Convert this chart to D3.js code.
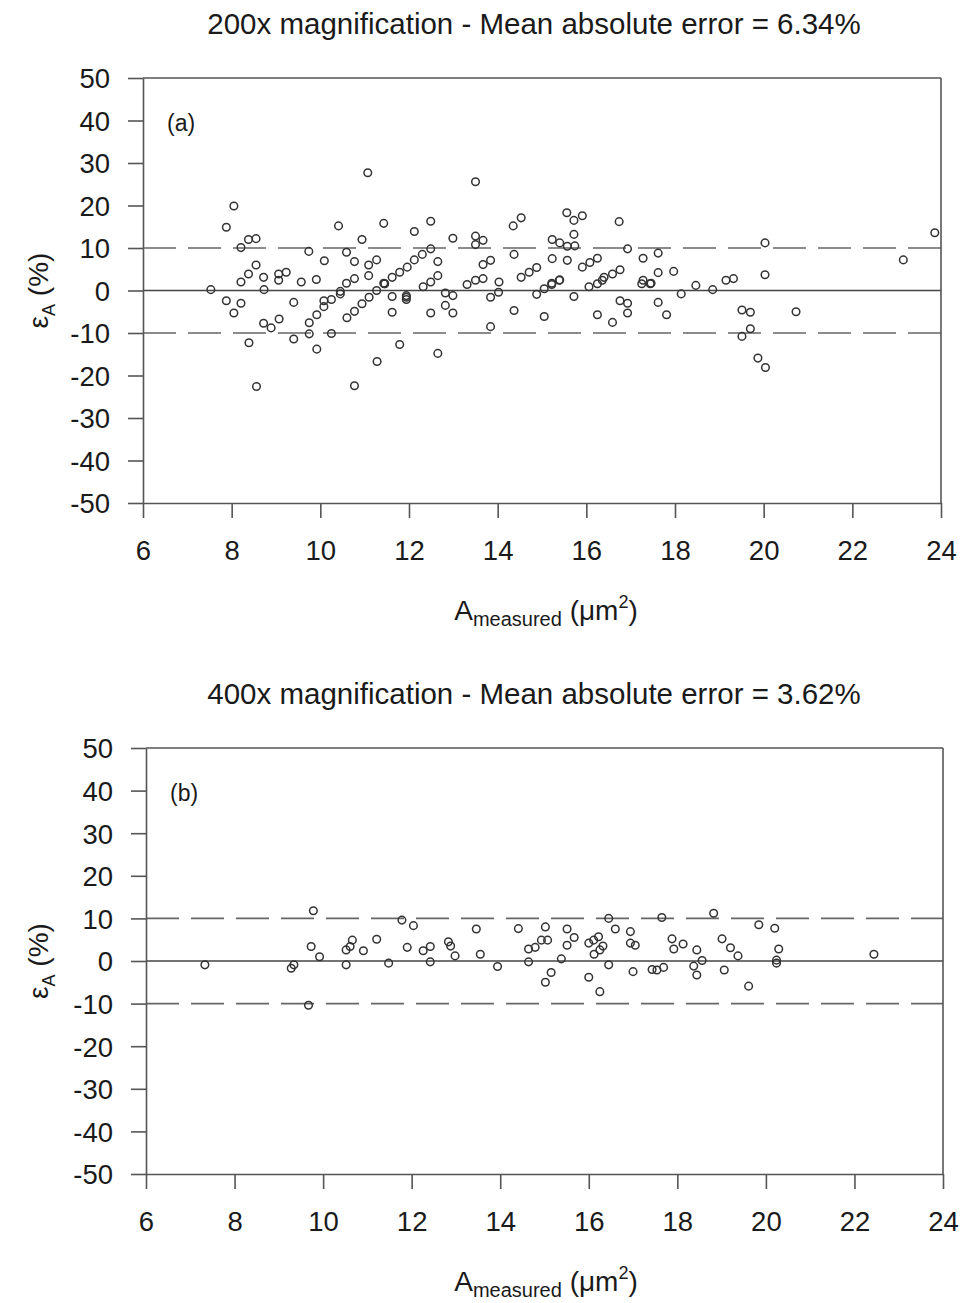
<!DOCTYPE html>
<html><head><meta charset="utf-8">
<script src="https://cdn.jsdelivr.net/npm/d3@7"></script>
<style>
body{margin:0;background:#fff;}
svg text{font-family:"Liberation Sans",Arial,sans-serif;fill:#1a1a1a;}
</style>
</head><body>
<svg id="c" width="967" height="1303"></svg>
<script>
// ---- data ----
const xTicks = [6,8,10,12,14,16,18,20,22,24];
const yTicks = [50,40,30,20,10,0,-10,-20,-30,-40,-50];
const titleA = "200x magnification - Mean absolute error = 6.34%";
const titleB = "400x magnification - Mean absolute error = 3.62%";
const labelA = "(a)";
const labelB = "(b)";
const limits = [10,-10];

// panel (a): [A_measured, error%]
const pointsA_x = [11.07,8.05,7.88,10.41,11.43,12.12,8.38,8.55,8.21,9.74,10.59,10.94,10.09,10.77,11.09,11.27,8.55,8.38,8.21,8.72,9.06,9.23,9.06,9.57,9.91,7.53,8.73,10.59,10.77,11.09,11.43,11.62,11.79,11.96,12.12,
7.88,8.21,8.05,8.72,8.89,9.07,8.39,8.56,9.40,9.40,9.75,9.92,10.08,9.75,9.92,10.08,10.25,10.25,10.45,10.60,10.77,10.94,11.10,11.27,10.77,11.28,11.62,11.62,11.79,11.94,11.94,11.45,
12.65,11.94,12.49,12.82,12.99,12.82,12.99,13.84,14.02,13.84,14.37,14.88,15.05,15.22,15.39,15.05,15.72,16.25,16.59,16.76,16.93,16.93,17.62,17.81,18.14,18.47,17.25,17.44,16.06,16.25,16.36,14.03,12.32,12.49,13.31,13.50,
13.50,12.49,12.99,13.50,13.67,13.50,14.35,14.53,14.37,15.56,15.72,15.91,15.72,15.23,15.40,15.57,15.74,15.23,15.57,15.91,16.08,16.25,16.74,16.93,17.28,17.62,17.62,17.97,17.28,17.46,16.40,16.59,16.76,14.53,14.71,14.88,15.22,15.40,12.65,12.65,13.67,13.84,13.67,12.30,12.49,
20.03,20.03,23.86,23.15,19.15,19.32,18.85,19.51,19.70,20.73,19.70,19.51,19.87,20.04,10.45,11.45];
const pointsA_y = [27.7,19.9,14.9,15.2,15.8,13.9,12.0,12.2,10.1,9.2,9.0,12.0,7.0,6.8,6.0,7.2,6.0,3.9,2.0,3.1,3.9,4.3,2.4,2.0,2.6,0.2,0.2,1.7,2.8,3.5,1.7,3.1,4.3,5.5,7.2,
-2.4,-3.0,-5.3,-7.7,-8.8,-6.7,-12.3,-22.6,-2.8,-11.4,-7.6,-5.7,-3.8,-10.2,-13.8,-2.4,-2.1,-10.1,-0.8,-6.4,-4.9,-3.1,-1.6,0.0,-22.4,-16.7,-5.1,-1.4,-12.7,-1.6,-2.1,1.6,
-14.8,-1.2,-5.3,-3.5,-5.3,-0.6,-1.2,-1.6,-0.4,-8.5,-4.7,-0.9,0.4,1.4,2.4,-6.1,-1.4,-5.7,-7.5,-2.4,-3.0,-5.3,-2.8,-5.7,-0.8,1.2,1.6,1.6,0.9,1.6,2.4,2.0,0.9,2.0,1.4,2.4,
25.6,16.3,12.3,12.8,11.8,10.8,15.2,17.1,8.5,18.3,16.5,17.6,13.2,12.0,11.2,10.4,10.5,7.5,7.1,5.5,6.6,7.6,16.2,9.8,7.6,8.8,4.2,4.5,2.4,1.7,3.1,3.9,4.9,3.1,4.3,5.4,1.7,2.5,6.8,3.5,6.1,7.1,2.8,8.5,9.8,
11.2,3.7,13.6,7.2,2.4,2.8,0.2,-4.6,-5.1,-5.0,-9.0,-10.8,-15.9,-18.1,-0.2,1.6];

// panel (b)
const pointsB_x = [7.33,9.78,9.73,9.92,9.28,9.34,9.67,10.52,10.66,10.61,10.52,10.91,11.21,11.48,11.78,12.04,11.90,
12.26,12.42,12.42,12.83,12.88,12.98,13.46,13.55,13.94,14.41,14.64,14.79,14.64,14.93,15.07,15.02,15.15,15.02,15.38,15.51,15.67,15.51,
16.00,16.11,16.22,16.32,16.25,16.12,16.00,16.25,16.45,16.60,16.45,16.94,16.94,17.05,17.00,17.43,17.54,17.69,17.65,17.88,18.13,17.92,18.44,18.37,18.44,
18.82,19.84,20.20,19.01,19.20,19.37,18.56,19.06,19.61,20.29,20.24,20.24,22.44];
const pointsB_y = [-0.9,11.8,3.4,1.0,-1.7,-0.9,-10.4,2.6,4.9,3.4,-0.9,2.4,5.1,-0.5,9.6,8.3,3.2,
2.4,3.4,-0.2,4.5,3.5,1.2,7.5,1.6,-1.3,7.6,2.8,3.2,-0.2,4.9,4.9,8.0,-2.7,-5.0,0.5,7.5,5.5,3.7,
4.2,4.9,5.7,3.5,2.6,1.6,-3.8,-7.2,10.0,7.5,-0.9,6.9,4.2,3.7,-2.5,-2.0,-2.1,-1.5,10.2,5.2,4.0,2.8,2.6,-1.2,-3.3,
11.2,8.5,7.7,5.2,3.1,1.2,0.1,-2.1,-5.9,2.8,0.2,-0.5,1.6];

const svg = d3.select("#c");
const axisColor = "#555";

function panel(cfg){
  const x = d3.scaleLinear().domain([6,24]).range([cfg.left,cfg.right]);
  const y = d3.scaleLinear().domain([-50,50]).range([cfg.bottom,cfg.top]);
  const g = svg.append("g");

  // title
  g.append("text").attr("x",534).attr("y",cfg.top-44).attr("text-anchor","middle")
    .attr("font-size",29.5).text(cfg.title);

  // reference lines
  cfg.limits.forEach(v=>{
    g.append("line").attr("x1",x(6)).attr("x2",x(24)).attr("y1",y(v)).attr("y2",y(v))
      .attr("stroke","#666").attr("stroke-width",1.6).attr("stroke-dasharray","33,12");
  });
  g.append("line").attr("x1",x(6)).attr("x2",x(24)).attr("y1",y(0)).attr("y2",y(0))
    .attr("stroke","#444").attr("stroke-width",1.5);

  // frame top/right
  g.append("line").attr("x1",x(6)).attr("x2",x(24)).attr("y1",y(50)).attr("y2",y(50))
    .attr("stroke",axisColor).attr("stroke-width",1.6);
  g.append("line").attr("x1",x(24)).attr("x2",x(24)).attr("y1",y(50)).attr("y2",y(-50))
    .attr("stroke",axisColor).attr("stroke-width",1.6);

  // axes
  const fmt = d => String(d);
  const xa = g.append("g").attr("transform",`translate(0,${y(-50)})`)
    .call(d3.axisBottom(x).tickValues(cfg.xTicks).tickFormat(fmt).tickSize(15).tickPadding(22).tickSizeOuter(0));
  const ya = g.append("g").attr("transform",`translate(${x(6)},0)`)
    .call(d3.axisLeft(y).tickValues(cfg.yTicks).tickFormat(fmt).tickSize(15).tickPadding(18).tickSizeOuter(0));
  [xa,ya].forEach(a=>{
    a.select(".domain").attr("stroke",axisColor).attr("stroke-width",1.6);
    a.selectAll(".tick line").attr("stroke",axisColor).attr("stroke-width",1.6);
    a.selectAll(".tick text").attr("font-size",27.5).attr("fill","#1a1a1a")
      .attr("font-family","'Liberation Sans',Arial,sans-serif");
  });
  ya.selectAll(".tick text").attr("dy","0.36em");

  // points
  g.append("g").selectAll("circle").data(d3.range(cfg.px.length)).join("circle")
    .attr("cx",i=>x(cfg.px[i])).attr("cy",i=>y(cfg.py[i])).attr("r",3.8)
    .attr("fill","none").attr("stroke","#333").attr("stroke-width",1.5);

  // panel label
  g.append("text").attr("x",x(6)+24).attr("y",y(40)+10).attr("font-size",23).text(cfg.label);

  // y label
  const yl = g.append("text").attr("transform",`translate(48,${y(0)}) rotate(-90)`)
    .attr("text-anchor","middle").attr("font-size",28);
  yl.append("tspan").text("ε");
  yl.append("tspan").attr("font-size",18).attr("dy",7).text("A");
  yl.append("tspan").attr("dy",-7).text(" (%)");

  // x label
  const xl = g.append("text").attr("x",546).attr("y",y(-50)+117).attr("text-anchor","middle")
    .attr("font-size",28);
  xl.append("tspan").text("A");
  xl.append("tspan").attr("font-size",20).attr("dy",6).text("measured");
  xl.append("tspan").attr("dy",-6).text(" (μm");
  xl.append("tspan").attr("font-size",18).attr("dy",-12).text("2");
  xl.append("tspan").attr("dy",12).text(")");
}

panel({left:143,right:941,top:78,bottom:503,title:titleA,label:labelA,limits:limits,
  xTicks:xTicks,yTicks:yTicks,px:pointsA_x,py:pointsA_y});
panel({left:146,right:943,top:748,bottom:1174,title:titleB,label:labelB,limits:limits,
  xTicks:xTicks,yTicks:yTicks,px:pointsB_x,py:pointsB_y});
</script>
</body></html>
